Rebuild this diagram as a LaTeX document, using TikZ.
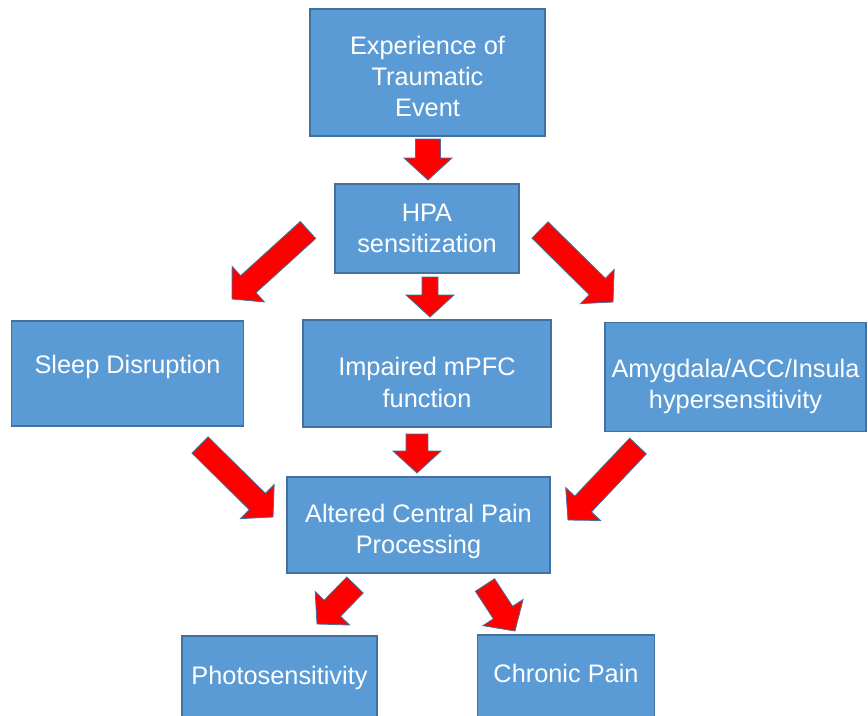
\documentclass[tikz,border=0pt]{standalone}
\usepackage{fontspec}
\setmainfont{Liberation Sans}
\usetikzlibrary{calc}

\definecolor{boxblue}{HTML}{5B9BD5}
\definecolor{boxline}{HTML}{41719C}

% block arrow: #1 shaft half-width, #2 tail, #3 tip
\newcommand{\redarrow}[3]{%
  \path ($(#3)!16.5pt!(#2)$) coordinate (hb);
  \filldraw[arr] ($(#2)!#1!90:(#3)$) -- ($(hb)!#1!-90:(#2)$) -- ($(hb)!18pt!-90:(#2)$)
    -- (#3) -- ($(hb)!18pt!90:(#2)$) -- ($(hb)!#1!90:(#2)$) -- ($(#2)!#1!-90:(#3)$) -- cycle;}

\begin{document}
\begin{tikzpicture}[x=0.75pt, y=-0.75pt,
  box/.style={draw=boxline, fill=boxblue, line width=1.1pt, text=white, align=center,
    inner sep=0pt, font=\fontsize{19}{23.5}\selectfont},
  arr/.style={fill=red, draw=boxline, line width=0.6pt, line join=miter}]
  \useasboundingbox (0,0) rectangle (868,715);
  \clip (0,0) rectangle (868,715);

  \node[box, minimum width=176pt, minimum height=95pt] (exp) at (427.5,72.5)
    {\rule{0pt}{19.5pt}Experience of\\Traumatic\\Event};
  \node[box, minimum width=138pt, minimum height=67pt] (hpa) at (427,228.5)
    {HPA\\sensitization};
  \node[box, minimum width=174pt, minimum height=79pt] (sleep) at (127.5,373.5)
    {\rule[-14.5pt]{0pt}{14.5pt}Sleep Disruption};
  \node[box, minimum width=186pt, minimum height=80pt] (mpfc) at (427,373.5)
    {\rule{0pt}{27pt}Impaired mPFC\\function};
  \node[box, minimum width=196pt, minimum height=82pt] (amyg) at (735.5,377)
    {\rule{0pt}{28pt}Amygdala/ACC/Insula\\hypersensitivity};
  \node[box, minimum width=197pt, minimum height=72pt] (pain) at (418.5,525)
    {\rule{0pt}{23.5pt}Altered Central Pain\\Processing};
  \node[box, minimum width=146pt, minimum height=63pt] (photo) at (279.5,678)
    {Photosensitivity};
  \node[box, minimum width=133pt, minimum height=64pt] (chronic) at (566,677.5)
    {\rule[-7pt]{0pt}{7pt}Chronic Pain};

  \coordinate (t1) at (428,139);  \coordinate (p1) at (428,180);
  \coordinate (t2) at (430,277);  \coordinate (p2) at (430,317);
  \coordinate (t3) at (308,230);  \coordinate (p3) at (232,299);
  \coordinate (t4) at (540,230);  \coordinate (p4) at (613,302);
  \coordinate (t5) at (200,445);  \coordinate (p5) at (273,517);
  \coordinate (t6) at (417,434);  \coordinate (p6) at (417,473);
  \coordinate (t7) at (638,446);  \coordinate (p7) at (568,520);
  \coordinate (t8) at (355,585);  \coordinate (p8) at (317,624);
  \coordinate (t9) at (485,585);  \coordinate (p9) at (515,631);

  \redarrow{9.4pt}{t1}{p1}
  \redarrow{6pt}{t2}{p2}
  \redarrow{8.6pt}{t3}{p3}
  \redarrow{8.6pt}{t4}{p4}
  \redarrow{8.6pt}{t5}{p5}
  \redarrow{8.2pt}{t6}{p6}
  \redarrow{8.6pt}{t7}{p7}
  \redarrow{8.6pt}{t8}{p8}
  \redarrow{8.6pt}{t9}{p9}
\end{tikzpicture}
\end{document}
